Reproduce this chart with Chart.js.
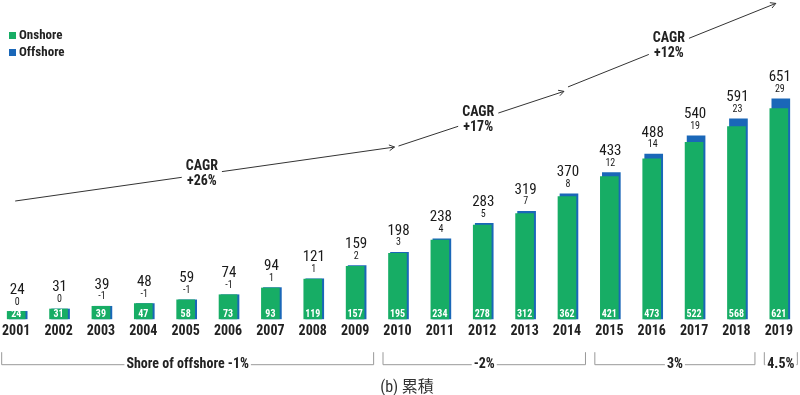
<!DOCTYPE html>
<html lang="ja">
<head>
<meta charset="UTF-8">
<title>Onshore / Offshore cumulative</title>
<script src="https://cdn.jsdelivr.net/npm/chart.js"></script>
<style>
  body { margin: 0; background: #fff; overflow: hidden; }
  /* canvas slightly wider than the window so the first bar sits near the edge */
  .wrap { width: 805px; height: 395px; margin-left: -5px; }
</style>
</head>
<body>
<div class="wrap"><canvas id="chart"></canvas></div>
<script>
// data
const years    = ['2001','2002','2003','2004','2005','2006','2007','2008','2009','2010',
                  '2011','2012','2013','2014','2015','2016','2017','2018','2019'];
const onshore  = [24, 31, 39, 47, 58, 73, 93, 119, 157, 195, 234, 278, 312, 362, 421, 473, 522, 568, 621];
const offshore = [0, 0, -1, -1, -1, -1, 1, 1, 2, 3, 4, 5, 7, 8, 12, 14, 19, 23, 29];
const totals   = [24, 31, 39, 48, 59, 74, 94, 121, 159, 198, 238, 283, 319, 370, 433, 488, 540, 591, 651];

// CAGR arrows (category index, value level)
const cagrLabels = ['+26%', '+17%', '+12%'];
const cagrFrom   = [0, 9, 13];
const cagrTo     = [9, 13, 18];
const cagrYFrom  = [348, 510, 684];
const cagrYTo    = [507, 671, 930];

// share-of-offshore brackets
const bracketLabels = ['Shore of offshore -1%', '-2%', '3%', '4.5%'];
const bracketFrom   = [0, 9, 14, 18];
const bracketTo     = [8, 13, 17, 18];

const caption = '(b) 累積';

const GREEN = '#17ad65';
const BLUE = '#1a67b8';
const FONT = '"Roboto Condensed", "DejaVu Sans Condensed", Roboto, sans-serif';
const SHIFT = 5; // canvas is moved left by this much

// blue bar sits slightly behind/right of the green one
const shiftOffshore = {
    id: 'shiftOffshore',
    beforeDatasetDraw(chart, args) {
        if (args.index === 1) { chart.ctx.save(); chart.ctx.translate(2, 0); }
    },
    afterDatasetDraw(chart, args) {
        if (args.index === 1) chart.ctx.restore();
    }
};

function arrow(ctx, x1, y1, x2, y2) {
    ctx.beginPath();
    ctx.moveTo(x1, y1);
    ctx.lineTo(x2, y2);
    const a = Math.atan2(y2 - y1, x2 - x1);
    ctx.moveTo(x2 - 6 * Math.cos(a - 0.5), y2 - 6 * Math.sin(a - 0.5));
    ctx.lineTo(x2, y2);
    ctx.lineTo(x2 - 6 * Math.cos(a + 0.5), y2 - 6 * Math.sin(a + 0.5));
    ctx.stroke();
}

function labelOnWhite(ctx, lines, x, y, lh, pad) {
    let w = 0;
    lines.forEach(l => { w = Math.max(w, ctx.measureText(l).width); });
    const h = lh * lines.length;
    ctx.fillStyle = '#fff';
    ctx.fillRect(x - w / 2 - pad, y - h / 2 - 1, w + 2 * pad, h + 2);
    ctx.fillStyle = '#222';
    lines.forEach((l, i) => ctx.fillText(l, x, y - h / 2 + lh * (i + 0.5)));
}

const extras = {
    id: 'extras',
    afterDatasetsDraw(chart) {
        const ctx = chart.ctx;
        const xs = chart.scales.x, ys = chart.scales.y;
        const on = chart.getDatasetMeta(0).data;
        const tot = chart.getDatasetMeta(1).data;
        const bottom = chart.chartArea.bottom;
        ctx.save();
        ctx.textAlign = 'center';
        ctx.textBaseline = 'middle';

        // value labels
        years.forEach((y, i) => {
            const x = on[i].x;
            const top = tot[i].y;
            ctx.fillStyle = '#1a1a1a';
            ctx.font = '15px ' + FONT;
            ctx.fillText(totals[i], x + 1, top - 21);
            ctx.font = '10px ' + FONT;
            ctx.fillText(offshore[i], x + 1, top - 9);
            ctx.fillStyle = '#fff';
            ctx.font = 'bold 10px ' + FONT;
            ctx.fillText(onshore[i], x, bottom - 5);
        });

        // CAGR arrows
        ctx.strokeStyle = '#333';
        ctx.lineWidth = 1;
        cagrLabels.forEach((lab, i) => {
            const x1 = xs.getPixelForValue(cagrFrom[i]) + (i ? 1 : -1);
            const x2 = xs.getPixelForValue(cagrTo[i]) - 3;
            const y1 = ys.getPixelForValue(cagrYFrom[i]);
            const y2 = ys.getPixelForValue(cagrYTo[i]);
            arrow(ctx, x1, y1, x2, y2);
            const mx = (x1 + x2) / 2 - 3, my = y1 + (y2 - y1) * (mx - x1) / (x2 - x1);
            ctx.font = 'bold 14px ' + FONT;
            labelOnWhite(ctx, ['CAGR', lab], mx, my, 15, 4);
        });

        // brackets
        const by = bottom + 45;
        ctx.strokeStyle = '#999';
        ctx.font = 'bold 14px ' + FONT;
        bracketLabels.forEach((lab, i) => {
            const l = xs.getPixelForValue(bracketFrom[i]) - 15;
            const r = xs.getPixelForValue(bracketTo[i]) + 19;
            ctx.beginPath();
            ctx.moveTo(l + 0.5, by - 12);
            ctx.lineTo(l + 0.5, by + 0.5);
            ctx.lineTo(r - 0.5, by + 0.5);
            ctx.lineTo(r - 0.5, by - 12);
            ctx.stroke();
            labelOnWhite(ctx, [lab], (l + r) / 2, by, 14, 2);
        });

        // caption
        ctx.fillStyle = '#333';
        ctx.font = '16px ' + FONT + ', "Noto Sans CJK JP"';
        ctx.fillText(caption, 407 + SHIFT, bottom + 69);

        // legend
        ctx.textAlign = 'left';
        ctx.font = 'bold 13px ' + FONT;
        chart.data.datasets.forEach((ds, i) => {
            const ly = 35 + i * 17;
            ctx.fillStyle = ds.backgroundColor;
            ctx.fillRect(9 + SHIFT, ly - 3, 7, 7);
            ctx.fillStyle = '#222';
            ctx.fillText(ds.label, 19 + SHIFT, ly + 1);
        });
        ctx.restore();
    }
};

new Chart(document.getElementById('chart'), {
    type: 'bar',
    data: {
        labels: years,
        datasets: [
            {
                label: 'Onshore',
                data: onshore,
                backgroundColor: GREEN,
                grouped: false,
                clip: false
            },
            {
                label: 'Offshore',
                data: onshore.map((v, i) => v + Math.max(offshore[i], 0)),
                backgroundColor: BLUE,
                grouped: false,
                clip: false
            }
        ]
    },
    options: {
        responsive: true,
        maintainAspectRatio: false,
        animation: false,
        layout: { padding: { left: 0, right: 0, top: 0, bottom: 51 } },
        datasets: { bar: { barPercentage: 0.44, categoryPercentage: 1 } },
        plugins: { legend: { display: false }, tooltip: { enabled: false } },
        scales: {
            x: {
                grid: { display: false, drawTicks: false },
                border: { display: false },
                ticks: { color: '#222', padding: 4, font: { family: FONT, size: 14, weight: 'bold' } }
            },
            y: { display: false, min: 0, max: 940 }
        }
    },
    plugins: [shiftOffshore, extras]
});
</script>
</body>
</html>
